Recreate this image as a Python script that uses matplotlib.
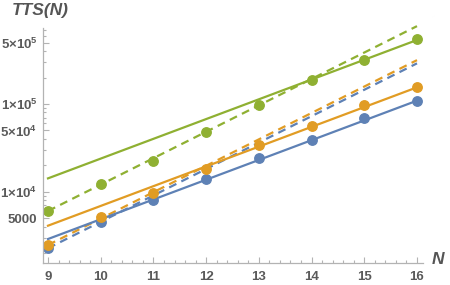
import numpy as np
import matplotlib
matplotlib.use("Agg")
import matplotlib.pyplot as plt
from matplotlib.ticker import FixedLocator, MultipleLocator

plt.rcParams['font.family'] = ['Liberation Sans', 'DejaVu Sans']
plt.rcParams['mathtext.fontset'] = 'custom'
plt.rcParams['mathtext.rm'] = 'Liberation Sans:bold'
plt.rcParams['mathtext.it'] = 'Liberation Sans:bold:italic'
plt.rcParams['mathtext.bf'] = 'Liberation Sans:bold'

# problem sizes
n_vals = [9, 10, 11, 12, 13, 14, 15, 16]

tts_blue = [2280, 4550, 8040, 13840, 24400, 38900, 68700, 109000]
tts_orange = [2470, 5110, 9590, 18000, 34100, 56100, 97500, 155000]
tts_green = [6030, 12140, 22570, 47500, 97500, 188000, 318000, 551000]

# exponential fits: TTS = a * base**(N - 9)
solid_a = [2890, 4100, 14200]
solid_base = 1.68
dashed_a = [2270, 2470, 6030]
dashed_base = 2.0

colors = ['#5E81B5', '#E19C24', '#8FB032']
gray = '#b3b3b3'
text_gray = '#5a5a5a'

fig = plt.figure(figsize=(4.5, 2.85), dpi=100)
ax = fig.add_axes([43 / 450, 1 - 263 / 285, 380 / 450, 235 / 285])

n_fit = np.linspace(9, 16, 50)
for a, c in zip(dashed_a, colors):
    ax.plot(n_fit, a * dashed_base ** (n_fit - 9), color=c, lw=1.6,
            dashes=(3.6, 2.5), clip_on=False)
for a, c in zip(solid_a, colors):
    ax.plot(n_fit, a * solid_base ** (n_fit - 9), color=c, lw=1.6)
for ys, c in zip([tts_blue, tts_orange, tts_green], colors):
    ax.plot(n_vals, ys, 'o', color=c, ms=6.8, mec=c, clip_on=False)

ax.set_yscale('log')
ax.set_xlim(8.905, 16.114)
ax.set_ylim(1540, 7.35e5)

ax.xaxis.set_major_locator(FixedLocator(n_vals))
ax.xaxis.set_minor_locator(MultipleLocator(0.2))

major_y = [5000, 1e4, 5e4, 1e5, 5e5]
major_lbl = ['5000', '1×10$^{4}$', '5×10$^{4}$', '1×10$^{5}$', '5×10$^{5}$']
minor_y = [m * 10 ** e for e in range(3, 6) for m in range(1, 10)]
minor_y = [v for v in minor_y if v not in major_y]
ax.yaxis.set_major_locator(FixedLocator(major_y))
ax.yaxis.set_minor_locator(FixedLocator(minor_y))
ax.set_yticklabels(major_lbl)

for s in ['top', 'right']:
    ax.spines[s].set_visible(False)
for s in ['left', 'bottom']:
    ax.spines[s].set_color(gray)
    ax.spines[s].set_linewidth(0.9)

ax.tick_params(which='both', direction='in', color=gray, width=0.8,
               labelcolor=text_gray, labelsize=9.5)
ax.tick_params(axis='x', pad=6)
ax.tick_params(axis='y', pad=4)
ax.tick_params(which='major', length=4)
ax.tick_params(which='minor', length=2.2)
for lbl in ax.get_xticklabels() + ax.get_yticklabels():
    lbl.set_fontweight('bold')

fig.text(12 / 450, 1 - 10 / 285, 'TTS(N)', fontsize=12.5, fontweight='bold',
         fontstyle='italic', color='#555555', va='center', ha='left')
fig.text(432 / 450, 1 - 259 / 285, 'N', fontsize=12.5, fontweight='bold',
         fontstyle='italic', color='#555555', va='center', ha='left')

fig.savefig('out.png', dpi=100)
